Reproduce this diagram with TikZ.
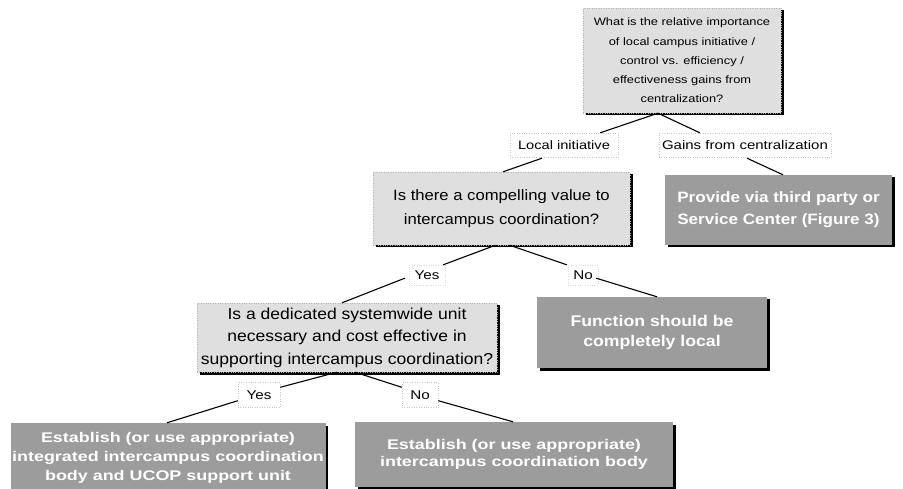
\documentclass[tikz,border=0pt]{standalone}
\usepackage{fontspec}
\setmainfont{Liberation Sans}
\newfontfamily\stA[FakeStretch=1.20]{Liberation Sans}
\newfontfamily\stB[FakeStretch=1.11]{Liberation Sans}
\newfontfamily\stC[FakeStretch=1.14]{Liberation Sans}
\newfontfamily\stD[FakeStretch=1.28]{Liberation Sans}
\usetikzlibrary{calc,shadows}
\begin{document}
\begin{tikzpicture}[x=1pt,y=-1pt,
  lightbox/.style={draw=gray!60, dotted, fill=gray!25, align=center, inner sep=0pt,
    drop shadow={shadow xshift=2.5pt, shadow yshift=-2.5pt, fill=black, opacity=1}},
  darkbox/.style={draw=none, fill=gray!78, align=center, inner sep=0pt, text=white,
    drop shadow={shadow xshift=2.5pt, shadow yshift=-2.5pt, fill=black, opacity=1}},
  lbl/.style={draw=gray!45, dotted, fill=white, inner sep=0pt, align=center},
  conn/.style={draw=black, line width=1.1pt}
]
\useasboundingbox[fill=white] (0,0) rectangle (903,489);

\node[lightbox, minimum width=198pt, minimum height=105pt,
  font=\stA\fontsize{10.7}{19.3}\selectfont] (top) at (682,60.5)
  {What is the relative importance\\of local campus initiative /\\control vs. efficiency /\\effectiveness gains from\\centralization?};

\node[lbl, minimum width=108pt, minimum height=24pt, font=\stA\fontsize{12.2}{14}\selectfont] (li) at (564,145) {Local initiative};
\node[lbl, minimum width=172pt, minimum height=24pt, font=\stA\fontsize{12.5}{14}\selectfont] (gc) at (745,145) {Gains from centralization};

\node[lightbox, minimum width=257pt, minimum height=73pt,
  font=\stB\fontsize{15}{24}\selectfont] (cv) at (501.5,208.5)
  {Is there a compelling value to\\intercampus coordination?};

\node[darkbox, minimum width=227pt, minimum height=70pt,
  font=\stC\bfseries\fontsize{15}{22}\selectfont] (pv) at (778.5,210)
  {Provide via third party or\\Service Center (Figure 3)};

\node[lbl, draw=gray!30, minimum width=36pt, minimum height=20pt, font=\stA\fontsize{12.7}{13}\selectfont] (y1) at (427,275) {Yes};
\node[lbl, draw=gray!30, minimum width=30pt, minimum height=20pt, font=\stA\fontsize{12.7}{13}\selectfont] (n1) at (583,275) {No};

\node[lightbox, minimum width=300pt, minimum height=69pt,
  font=\stB\fontsize{15.8}{22.5}\selectfont] (ded) at (347,337.5)
  {Is a dedicated systemwide unit\\necessary and cost effective in\\supporting intercampus coordination?};

\node[darkbox, minimum width=230pt, minimum height=71pt,
  font=\stC\bfseries\fontsize{15.5}{20}\selectfont] (fn) at (652,332.5)
  {Function should be\\completely local};

\node[lbl, minimum width=42pt, minimum height=25pt, font=\stA\fontsize{12.7}{13}\selectfont] (y2) at (259,395) {Yes};
\node[lbl, minimum width=36pt, minimum height=25pt, font=\stA\fontsize{12.7}{13}\selectfont] (n2) at (420,395) {No};

\node[darkbox, minimum width=315pt, minimum height=70pt,
  font=\stD\bfseries\fontsize{14}{19}\selectfont] (e1) at (168,458)
  {Establish (or use appropriate)\\integrated intercampus coordination\\body and UCOP support unit};

\node[darkbox, minimum width=318pt, minimum height=65pt,
  font=\stD\bfseries\fontsize{14}{17}\selectfont] (e2) at (514,454.5)
  {Establish (or use appropriate)\\intercampus coordination body};

% connectors
\draw[conn] ($(top.south)+(-24,0)$) -- ($(li.north east)+(-18,0)$);
\draw[conn] ($(top.south)+(-24,0)$) -- ($(gc.north west)+(41,0)$);
\draw[conn] ($(li.south)+(-22,1)$) -- ($(cv.north)+(1.5,0)$);
\draw[conn] ($(gc.south)+(2,1)$) -- ($(pv.north)+(4.5,0)$);
\draw[conn] ($(cv.south)+(-6,0)$) -- ($(y1.north east)+(-2,0)$);
\draw[conn] ($(cv.south)+(8,0)$) -- ($(n1.north west)+(-1,0)$);
\draw[conn] ($(y1.south west)+(-4,-7)$) -- ($(ded.north)+(-5,0)$);
\draw[conn] ($(n1.south east)+(-2,-7)$) -- ($(fn.north)+(5,0)$);
\draw[conn] ($(ded.south)+(-10,0)$) -- ($(y2.north east)+(0,5)$);
\draw[conn] ($(ded.south)+(8,0)$) -- ($(n2.north west)+(0,5)$);
\draw[conn] ($(y2.south west)+(0,-7)$) -- ($(e1.north)+(-1,0)$);
\draw[conn] ($(n2.south east)+(0,-7)$) -- ($(e2.north)+(-1,0)$);
\end{tikzpicture}
\end{document}
